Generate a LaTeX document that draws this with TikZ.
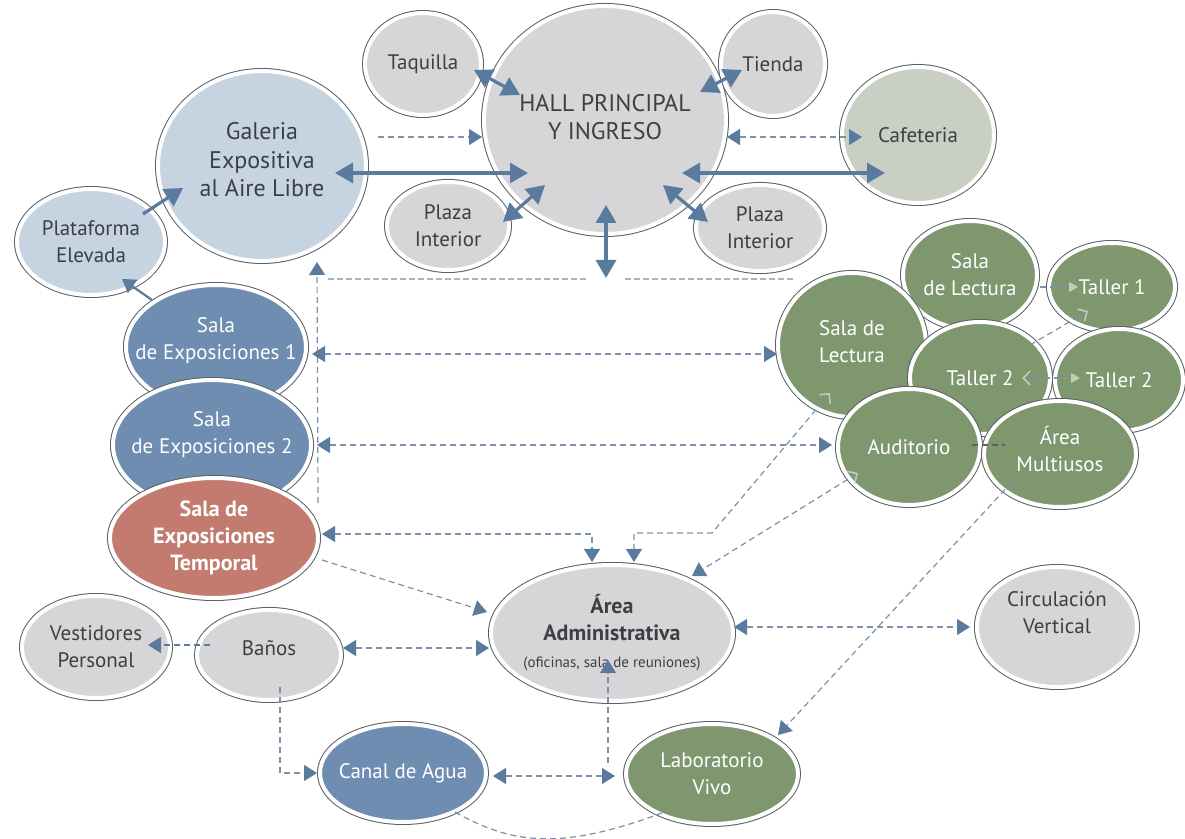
\documentclass[tikz,border=0pt]{standalone}
\usepackage{fontspec}
\setmainfont{PT Sans}
\usetikzlibrary{shapes.geometric, arrows.meta, calc}

\definecolor{grayfill}{HTML}{D6D6D8}
\definecolor{skyfill}{HTML}{C6D3E0}
\definecolor{bluefill}{HTML}{6F8DB1}
\definecolor{redfill}{HTML}{C27B6E}
\definecolor{greenfill}{HTML}{7E976F}
\definecolor{sagefill}{HTML}{C9D0C3}
\definecolor{rimc}{HTML}{5C5F63}
\definecolor{inkc}{HTML}{3E3F42}
\definecolor{arrc}{HTML}{5A7A9E}
\definecolor{dshc}{HTML}{7D91A9}
\definecolor{busc}{HTML}{A9B4C1}
\definecolor{palec}{HTML}{C3CCB5}

\tikzset{
  room/.style={ellipse, inner sep=0pt, fill=#1, draw=white, line width=2pt,
    preaction={draw=rimc, line width=3pt}},
  sz/.style 2 args={minimum width=#1pt, minimum height=#2pt},
  lbl/.style={shape=rectangle, inner sep=0pt, align=center, text=#1,
    font=\fontsize{10.5}{13.5}\selectfont},
  bigtip/.tip={Triangle[length=9pt, width=10pt]},
  smalltip/.tip={Triangle[length=6.5pt, width=8pt, color=arrc]},
  paletip/.tip={Triangle[length=4.5pt, width=5pt, color=palec]},
  barbtip/.tip={Straight Barb[length=3.5pt, width=7pt, color=palec, line width=0.8pt]},
  link/.style={draw=arrc, line width=1.6pt},
  dlink/.style={draw=dshc, line width=0.6pt, dash pattern=on 3pt off 2pt},
}

\begin{document}
\begin{tikzpicture}[x=0.5pt,y=-0.5pt]
\useasboundingbox (0,0) rectangle (1185,839);

%Hall and upper ring
\node[room=grayfill, sz={58}{51}, label={[lbl=inkc]center:{Taquilla}}] (taq) at (423,64) {};
\node[room=grayfill, sz={52}{52}, label={[lbl=inkc]center:{Tienda}}] (tie) at (773,64) {};
\node[room=grayfill, sz={121}{114}, label={[lbl=inkc, yshift=1.5pt, font=\fontsize{12}{14}\selectfont]center:{HALL PRINCIPAL\\Y INGRESO}}] (hall) at (605,120) {};
\node[room=sagefill, sz={76}{68}, label={[lbl=inkc]center:{Cafeteria}}] (caf) at (918,135) {};
\node[room=skyfill, sz={104}{95}, label={[lbl=inkc, yshift=3pt, font=\fontsize{12}{14.2}\selectfont]center:{Galeria\\Expositiva\\al Aire Libre}}] (gal) at (262,166) {};
\node[room=skyfill, sz={74}{53}, label={[lbl=inkc]center:{Plataforma\\Elevada}}] (pla) at (91,242) {};
\node[room=grayfill, sz={61}{44}, label={[lbl=inkc]center:{Plaza\\Interior}}] (pzl) at (448,226) {};
\node[room=grayfill, sz={64}{43}, label={[lbl=inkc]center:{Plaza\\Interior}}] (pzr) at (760,228) {};

%Salas de exposiciones
\node[room=bluefill, sz={90}{62}, label={[lbl=white, yshift=3pt]center:{Sala\\de Exposiciones 1}}] (sx1) at (216,347) {};
\node[room=bluefill, sz={99}{65}, label={[lbl=white, yshift=5pt]center:{Sala\\de Exposiciones 2}}] (sx2) at (212,445) {};
\node[room=redfill, sz={104}{60}, label={[lbl=white, font=\bfseries\fontsize{11}{13.5}\selectfont]center:{Sala de\\Exposiciones\\Temporal}}] (stm) at (214,538) {};

%Servicios
\node[room=grayfill, sz={74}{51}, label={[lbl=inkc]center:{Vestidores\\Personal}}] (ves) at (96,647) {};
\node[room=grayfill, sz={72}{45}, label={[lbl=inkc, yshift=3.5pt]center:{Baños}}] (ban) at (269,655) {};
\node[room=grayfill, sz={121}{68}, label={[lbl=inkc]center:{{\bfseries\fontsize{11}{13.5}\selectfont Área}\\{\bfseries\fontsize{11}{13.5}\selectfont Administrativa}\\{\fontsize{7.5}{13.5}\selectfont (oficinas, sala de reuniones)}}}] (adm) at (612,633) {};
\node[room=grayfill, sz={80}{60}, label={[lbl=inkc, yshift=7pt]center:{Circulación\\Vertical}}] (cir) at (1057,627) {};
\node[room=bluefill, sz={83}{49}, label={[lbl=white]center:{Canal de Agua}}] (can) at (403,773) {};
\node[room=greenfill, sz={86}{50}, label={[lbl=white]center:{Laboratorio\\Vivo}}] (lab) at (712,774) {};

%Cluster de lectura y talleres
\node[room=greenfill, sz={67}{54}, label={[lbl=white]center:{Sala\\de Lectura}}] (slt) at (970,275) {};
\node[room=greenfill, sz={74}{72}, label={[lbl=white, yshift=1.5pt]center:{Sala de\\Lectura}}] (slb) at (852,345) {};
\node[room=greenfill, sz={63}{44}, label={[lbl=white]center:{Taller 1}}] (ta1) at (1112,287) {};
\node[room=greenfill, sz={64}{51}, label={[lbl=white]center:{Taller 2}}] (ta3) at (1119,380) {};
\node[room=greenfill, sz={70}{56}, label={[lbl=white]center:{Taller 2}}] (ta2) at (980,378) {};
\node[room=greenfill, sz={71}{58}, label={[lbl=white]center:{Auditorio}}] (aud) at (909,447) {};
\node[room=greenfill, sz={76}{53}, label={[lbl=white, yshift=2.5pt]center:{Área\\Multiusos}}] (mul) at (1060,454) {};

%Bus
\coordinate (busW) at (328,279);
\coordinate (busA) at (586,279);
\coordinate (busB) at (625,279);
\coordinate (busE) at (796,279);
\coordinate (busS) at (318,503);
\coordinate (bus) at (606,278);
\draw[busc, line width=1pt, dash pattern=on 3pt off 1.5pt] (busW) -- (busA) (busB) -- (busE);

%Solid links
\draw[link, bigtip-bigtip] ($(taq)+(51,6)$) -- ($(hall)+(-85,-25)$);
\draw[link, bigtip-bigtip] ($(hall)+(95,-28)$) -- ($(tie)+(-31,6)$);
\draw[link, bigtip-bigtip] ($(gal)+(73,7)$) -- ($(hall)+(-77,53)$);
\draw[link, bigtip-bigtip] ($(hall)+(77,53)$) -- ($(caf)+(-33,38)$);
\draw[link, bigtip-bigtip] ($(pzl)+(55,-4)$) -- ($(hall)+(-60,65)$);
\draw[link, bigtip-bigtip] ($(hall)+(58,65)$) -- ($(pzr)+(-52,-6)$);
\draw[link, bigtip-bigtip] ($(hall)+(1,85)$) -- (bus);
\draw[link, -bigtip] ($(pla)+(52,-28)$) -- ($(gal)+(-79,22)$);
\draw[link, line width=1.1pt, -smalltip] ($(sx1)+(-64,-47)$) -- ($(pla)+(31,37)$);

%Dashed links
\draw[dlink, -smalltip] ($(gal)+(116,-29)$) -- ($(hall)+(-123,17)$);
\draw[dlink, smalltip-smalltip] ($(hall)+(122,17)$) -- ($(caf)+(-56,2)$);
\draw[dlink, -smalltip] (busS) -- ($(gal)+(55,96)$);
\draw[dlink, smalltip-smalltip] ($(sx1)+(96,7)$) -- ($(slb)+(-75,9)$);
\draw[dlink, smalltip-smalltip] ($(sx2)+(105,0)$) -- ($(aud)+(-77,-2)$);
\draw[dlink, smalltip-smalltip] ($(stm)+(108,-4)$) -| ($(adm)+(-20,-71)$);
\draw[dlink, barbtip-smalltip] ($(slb)+(-22,48)$) -- ($(adm)+(100,-100)$) -| ($(adm)+(22,-71)$);
\draw[dlink, barbtip-smalltip] ($(aud)+(-51,26)$) -- ($(adm)+(80,-57)$);
\draw[dlink, -smalltip] ($(mul)+(-48,28)$) -- ($(lab)+(66,-39)$);
\draw[dlink, -smalltip] ($(stm)+(108,22)$) -- ($(adm)+(-125,-21)$);
\draw[dlink, smalltip-smalltip] ($(ban)+(74,-7)$) -- ($(adm)+(-123,15)$);
\draw[dlink, smalltip-smalltip] ($(adm)+(122,-6)$) -- ($(cir)+(-87,0)$);
\draw[dlink, draw=arrc, -smalltip] ($(ban)+(-59,-10)$) -- ($(ves)+(52,-2)$);
\draw[dlink, -smalltip] ($(ban)+(11,32)$) |- ($(can)+(-86,0)$);
\draw[dlink, smalltip-smalltip] ($(can)+(90,3)$) -- ($(lab)+(-97,2)$);
\draw[dlink, -smalltip] ($(lab)+(-104,-11)$) -- ($(adm)+(-4,27)$);
\draw[dlink] ($(can)+(52,39)$) .. controls ($(can)+(110,72)$) and ($(lab)+(-150,76)$) .. ($(lab)+(-50,39)$);

%Inside the cluster
\draw[dlink, -paletip] ($(slt)+(70,12)$) -- ($(ta1)+(-34,0)$);
\draw[dlink, -barbtip] ($(ta2)+(50,-33)$) -- ($(ta1)+(-24,24)$);
\draw[dlink, barbtip-paletip] ($(ta2)+(42,0)$) -- ($(ta3)+(-39,-2)$);
\draw[dlink, draw=rimc] ($(aud)+(63,-2)$) -- ($(mul)+(-55,-9)$);
\end{tikzpicture}
\end{document}
